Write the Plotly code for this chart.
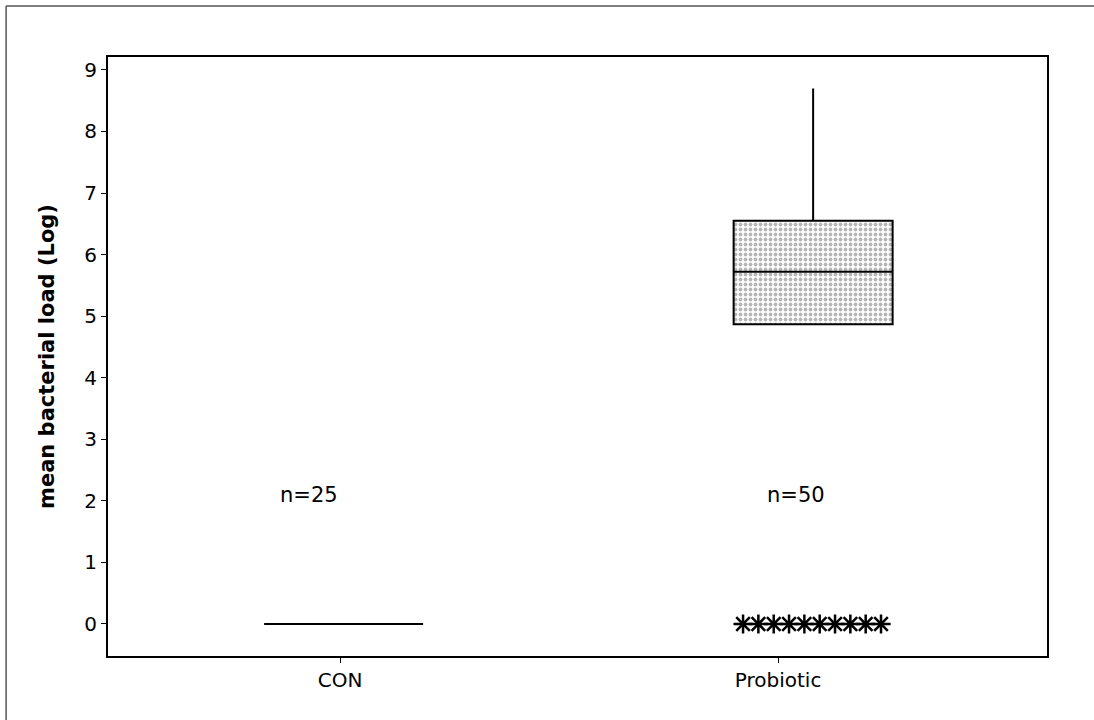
import numpy as np
import plotly.graph_objects as go

# Groups and summary statistics (log bacterial load)
groups = ["CON", "Probiotic"]
tick_pos = [0, 1]
box_pos = [0.008, 1.08]
q1 = [0.0, 4.87]
median = [0.0, 5.72]
q3 = [0.0, 6.55]
lower_fence = [0.0, 4.87]
upper_fence = [0.0, 8.70]
n_labels = ["n=25", "n=50"]
n_label_x = [-0.07, 1.04]
n_label_y = [2.1, 2.1]

# Probiotic outliers (all at zero)
probiotic_outliers = [0, 0, 0, 0, 0, 0, 0, 0, 0, 0]

BOX_W = 0.363
FONT = "DejaVu Sans"

fig = go.Figure()

# stippled fill of the Probiotic box body
fig.add_trace(go.Bar(
    x=[box_pos[1]], y=[q3[1] - q1[1]], base=[q1[1]], width=BOX_W,
    marker=dict(color="white", line=dict(width=0),
                pattern=dict(shape=".", fgcolor="#6e6e6e", bgcolor="white",
                             size=5, solidity=0.45)),
    hoverinfo="skip", showlegend=False,
))

for i in range(len(groups)):
    fig.add_trace(go.Box(
        x=[box_pos[i]], q1=[q1[i]], median=[median[i]], q3=[q3[i]],
        lowerfence=[lower_fence[i]], upperfence=[upper_fence[i]],
        width=BOX_W, whiskerwidth=0,
        fillcolor="rgba(0,0,0,0)",
        line=dict(color="black", width=2),
        boxpoints=False, showlegend=False, name=groups[i],
    ))

# outliers spread across the box width
offsets = np.linspace(-0.16, 0.155, len(probiotic_outliers))
fig.add_trace(go.Scatter(
    x=box_pos[1] + offsets, y=probiotic_outliers, mode="markers",
    marker=dict(symbol="asterisk-open", size=16, color="black",
                line=dict(color="black", width=2.5)),
    showlegend=False, hoverinfo="skip",
))

for i in range(len(groups)):
    fig.add_annotation(x=n_label_x[i], y=n_label_y[i], text=n_labels[i],
                       showarrow=False, font=dict(family=FONT, size=21, color="black"))

# outer frame
fig.add_shape(type="line", xref="paper", yref="paper",
              x0=-0.1085, x1=-0.1085, y0=1.085, y1=-0.11,
              line=dict(color="#555555", width=1.5))
fig.add_shape(type="line", xref="paper", yref="paper",
              x0=-0.1085, x1=1.06, y0=1.085, y1=1.085,
              line=dict(color="#555555", width=1.5))

fig.update_layout(
    width=1094, height=720,
    margin=dict(l=108, r=47, t=57, b=64),
    paper_bgcolor="white", plot_bgcolor="white",
    font=dict(family=FONT, size=20, color="black"),
    barmode="overlay",
)
fig.update_xaxes(
    range=[-0.53, 1.614], tickvals=tick_pos, ticktext=groups,
    showgrid=False, zeroline=False,
    showline=True, linecolor="black", linewidth=2, mirror=True,
    ticks="outside", ticklen=5, tickcolor="black",
    tickfont=dict(family=FONT, size=20),
)
fig.update_yaxes(
    range=[-0.52, 9.21], tickvals=list(range(10)),
    showgrid=False, zeroline=False,
    showline=True, linecolor="black", linewidth=2, mirror=True,
    ticks="outside", ticklen=5, tickcolor="black",
    tickfont=dict(family=FONT, size=20),
    title=dict(text="<b>mean bacterial load (Log)</b>",
               font=dict(family=FONT, size=21), standoff=24),
)

fig.write_html("out.html")
